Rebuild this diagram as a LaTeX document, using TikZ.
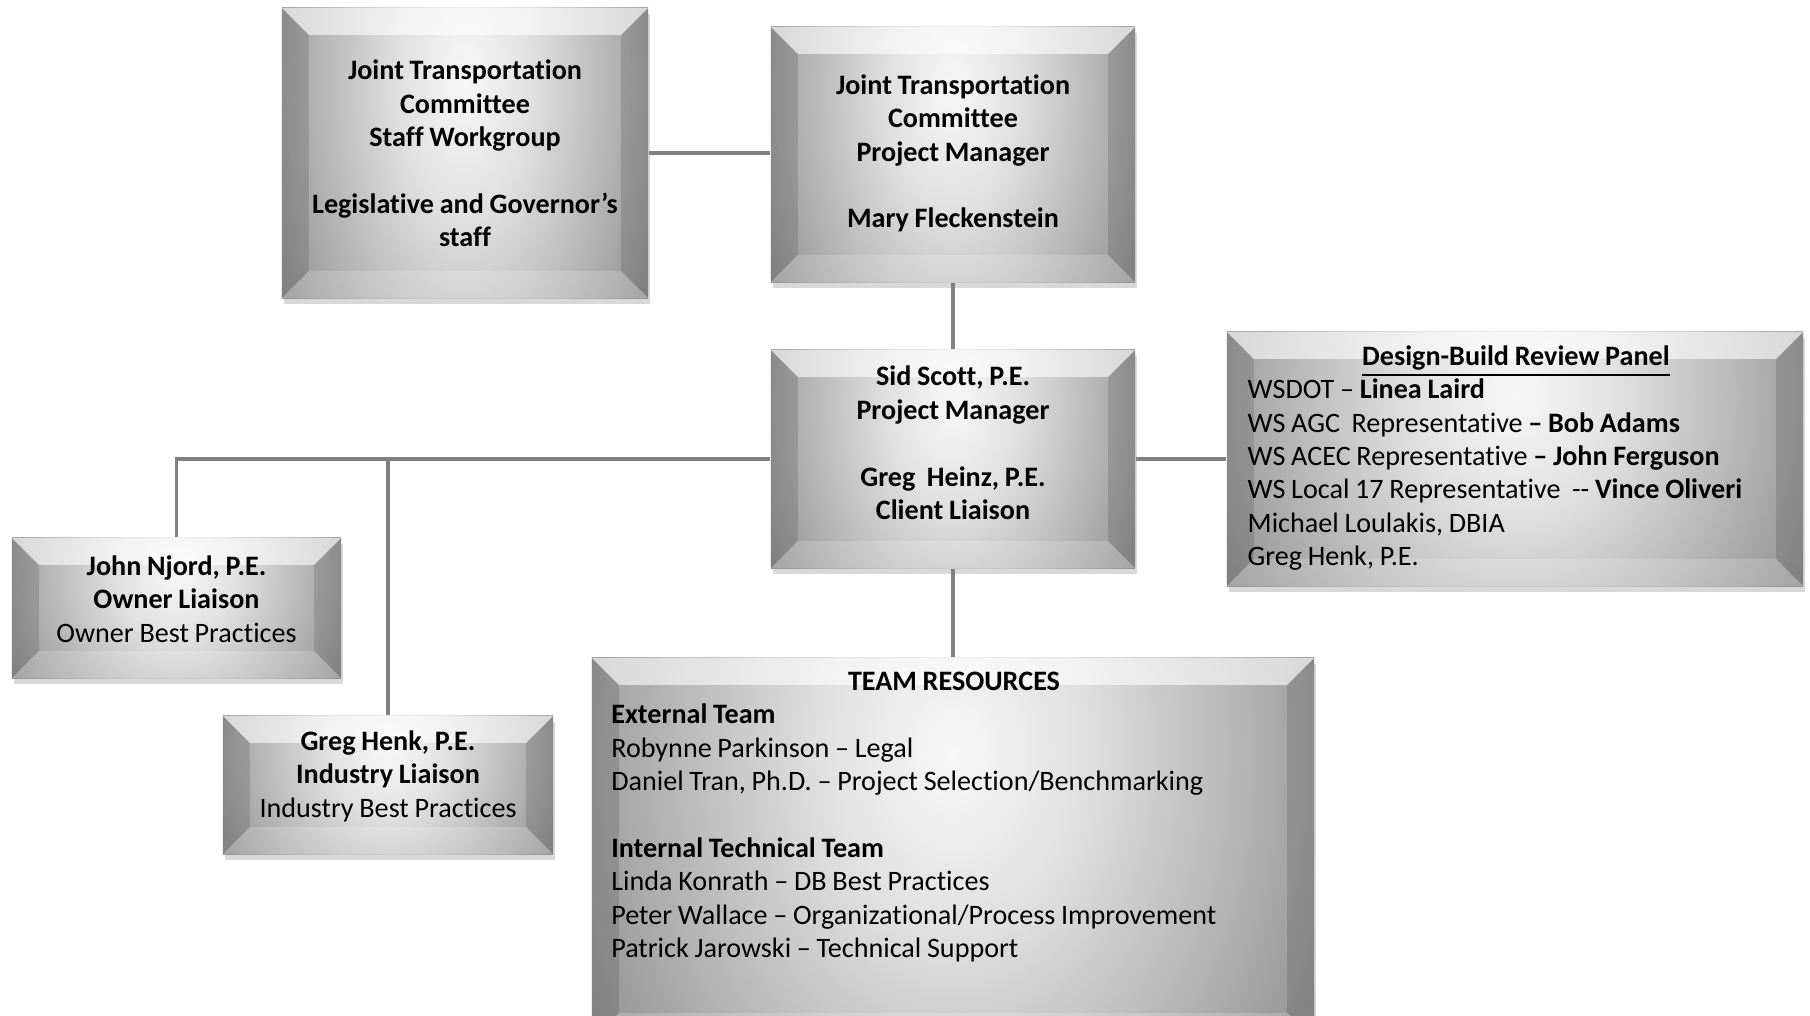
\documentclass[tikz,border=0pt]{standalone}
\usepackage{fontspec}
\setmainfont{Carlito}[Ligatures={TeX,NoCommon}, WordSpace=0.9]
\usetikzlibrary{calc,shadows}

\colorlet{ConnectorLine}{black!50}

\pgfdeclareradialshading{BoxFace}{\pgfpoint{0bp}{0bp}}{%
  color(0bp)=(white!97!black); color(9bp)=(white!88!black);
  color(18bp)=(black!26); color(28bp)=(black!42); color(40bp)=(black!60);
  color(50bp)=(black!70)}

\newcommand{\bevelsize}{0.27cm}

\tikzset{
  orgbox/.style={rectangle, inner sep=0pt,
    drop shadow={opacity=.3, shadow xshift=0.02cm, shadow yshift=-0.06cm},
    path picture={
      \path (path picture bounding box.north west) coordinate (bnw)
            (path picture bounding box.north east) coordinate (bne)
            (path picture bounding box.south west) coordinate (bsw)
            (path picture bounding box.south east) coordinate (bse);
      \shade[shading=BoxFace] ($(bnw)!-1.05!(bsw)$) rectangle ($(bne)!1.55!(bse)$);
      \fill[white, opacity=.6] (bnw) -- (bne) -- ([shift={(-\bevelsize,-\bevelsize)}]bne)
        -- ([shift={(\bevelsize,-\bevelsize)}]bnw) -- cycle;
      \fill[black, opacity=.12] (bnw) -- (bsw) -- ([shift={(\bevelsize,\bevelsize)}]bsw)
        -- ([shift={(\bevelsize,-\bevelsize)}]bnw) -- cycle;
      \fill[black, opacity=.12] (bne) -- (bse) -- ([shift={(-\bevelsize,\bevelsize)}]bse)
        -- ([shift={(-\bevelsize,-\bevelsize)}]bne) -- cycle;
      \fill[white, opacity=.18] (bsw) -- (bse) -- ([shift={(-\bevelsize,\bevelsize)}]bse)
        -- ([shift={(\bevelsize,\bevelsize)}]bsw) -- cycle;
    }},
  orgtext/.style={inner sep=0pt, align=center, font=\bfseries\fontsize{8}{9.5}\selectfont},
  listtext/.style={inner sep=0pt, align=flush left, anchor=west, font=\fontsize{8}{9.5}\selectfont},
  link/.style={draw=ConnectorLine, line width=1pt}
}

\begin{document}
\begin{tikzpicture}[x=0.01cm, y=-0.01cm]

    \useasboundingbox (0,0) rectangle (1810,1015);
    \fill[white] (0,0) rectangle (1810,1015);

    \node[orgbox, minimum width=3.66cm, minimum height=2.90cm] (staff) at (465,153) {};
    \node[orgbox, minimum width=3.64cm, minimum height=2.55cm] (pm) at (953,154.5) {};
    \node[orgbox, minimum width=3.64cm, minimum height=2.18cm] (sid) at (953,459) {};
    \node[orgbox, minimum width=5.76cm, minimum height=2.54cm] (panel) at (1515,459) {};
    \node[orgbox, minimum width=3.29cm, minimum height=1.40cm] (njord) at (176.5,608) {};
    \node[orgbox, minimum width=3.30cm, minimum height=1.38cm] (henk) at (388,785) {};
    \node[orgbox, minimum width=7.22cm, minimum height=3.82cm] (team) at (953,849) {};

    \node[orgtext] (staff-txt) at (465,153.5)
        {Joint Transportation\\Committee\\Staff Workgroup\\[9.5pt]Legislative and Governor’s\\staff};
    \node[orgtext] (pm-txt) at (953,153.5)
        {Joint Transportation\\Committee\\Project Manager\\[9.5pt]Mary Fleckenstein};
    \node[orgtext] (sid-txt) at (953,443)
        {Sid Scott, P.E.\\Project Manager\\[9.5pt]Greg~ Heinz, P.E.\\Client Liaison};
    \node[orgtext] (njord-txt) at (176.5,599)
        {John Njord, P.E.\\Owner Liaison\\\textmd{Owner Best Practices}};
    \node[orgtext] (henk-txt) at (388,776)
        {Greg Henk, P.E.\\Industry Liaison\\\textmd{Industry Best Practices}};

    \node[listtext, text width=5.36cm] (panel-txt) at (1247,458)
        {\makebox[5.36cm]{\textbf{\underline{Design-Build Review Panel}}}\\
         WSDOT – \textbf{Linea Laird}\\
         WS AGC~ Representative \textbf{– Bob Adams}\\
         WS ACEC Representative \textbf{– John Ferguson}\\
         WS Local 17 Representative~ -{}- \textbf{Vince Oliveri}\\
         Michael Loulakis, DBIA\\
         Greg Henk, P.E.};
    \node[listtext, text width=6.85cm] (team-txt) at (610.6,817)
        {\makebox[6.85cm]{\textbf{TEAM RESOURCES}}\\
         \textbf{External Team}\\
         Robynne Parkinson – Legal\\
         Daniel Tran, Ph.D. – Project Selection/Benchmarking\\[9.5pt]
         \textbf{Internal Technical Team}\\
         Linda Konrath – DB Best Practices\\
         Peter Wallace – Organizational/Process Improvement\\
         Patrick Jarowski – Technical Support};

    \draw[link] (staff.east) -- (staff.east -| pm.west);
    \draw[link] (pm.south) -- (sid.north);
    \draw[link] (sid.west) -| (njord.north);
    \draw[link] (henk.north) -- (henk.north |- sid.west);
    \draw[link] (sid.east) -- (panel.west);
    \draw[link] (sid.south) -- (team.north);
\end{tikzpicture}
\end{document}
